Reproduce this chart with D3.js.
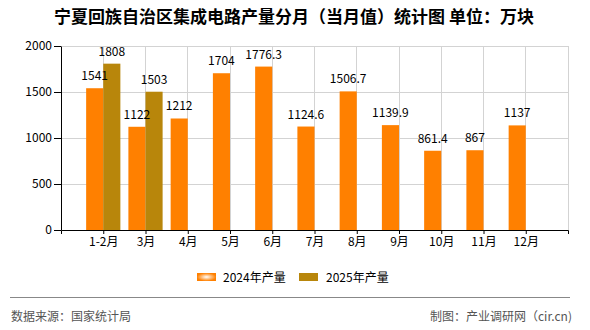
<!DOCTYPE html>
<html>
<head>
<meta charset="utf-8">
<script src="https://cdn.jsdelivr.net/npm/d3@7"></script>
<style>
  html, body { margin: 0; padding: 0; background: #fff; }
  svg { display: block; font-family: "Noto Sans CJK SC", "DejaVu Sans", sans-serif; }
</style>
</head>
<body>
<svg id="chart" width="590" height="330"></svg>
<script>
const categories = ["1-2月","3月","4月","5月","6月","7月","8月","9月","10月","11月","12月"];
const values2024 = [1541,1122,1212,1704,1776.3,1124.6,1506.7,1139.9,861.4,867,1137];
const values2025 = [1808,1503];
const labels2024 = ["1541","1122","1212","1704","1776.3","1124.6","1506.7","1139.9","861.4","867","1137"];
const labels2025 = ["1808","1503"];
const yTicks = [0,500,1000,1500,2000];
const seriesNames = ["2024年产量","2025年产量"];
const title = "宁夏回族自治区集成电路产量分月（当月值）统计图 单位：万块";
const sourceText = "数据来源：国家统计局";
const creditText = "制图：产业调研网（cir.cn)";

const svg = d3.select("#chart");
const pLeft = 61, pRight = 568, pTop = 46, pBottom = 230;
const c2024 = "#ff8000", c2025 = "#b8860b";

const x = d3.scalePoint().domain(categories).range([pLeft, pRight]).padding(1);
const y = d3.scaleLinear().domain([0, 2000]).range([pBottom, pTop]);
const bw = x.step() * 0.405;

// defs
const defs = svg.append("defs");
const rg = defs.append("radialGradient").attr("id","lg2024");
rg.append("stop").attr("offset","0%").attr("stop-color","#ffffff");
rg.append("stop").attr("offset","100%").attr("stop-color",c2024);

// title
svg.append("text").attr("x", 294).attr("y", 23).attr("text-anchor","middle")
  .attr("font-size", 17).attr("font-weight","bold").attr("fill","#000").text(title);

// grid
const grid = svg.append("g").attr("stroke","#d3d3d3").attr("stroke-width",1).attr("shape-rendering","crispEdges");
yTicks.filter(d => d > 0).forEach(t => {
  grid.append("line").attr("x1", pLeft).attr("x2", pRight).attr("y1", y(t)).attr("y2", y(t));
});
categories.forEach(c => {
  grid.append("line").attr("x1", x(c)).attr("x2", x(c)).attr("y1", pTop).attr("y2", pBottom);
});
grid.append("line").attr("x1", pRight).attr("x2", pRight).attr("y1", pTop).attr("y2", pBottom);

// bars
svg.append("g").selectAll("rect").data(values2024).join("rect")
  .attr("x", (d,i) => x(categories[i]) - bw)
  .attr("y", d => y(d))
  .attr("width", bw)
  .attr("height", d => pBottom - y(d))
  .attr("fill", c2024);
svg.append("g").selectAll("rect").data(values2025).join("rect")
  .attr("x", (d,i) => x(categories[i]))
  .attr("y", d => y(d))
  .attr("width", bw)
  .attr("height", d => pBottom - y(d))
  .attr("fill", c2025);

// value labels
svg.append("g").attr("font-size", 12).attr("text-anchor","middle").attr("fill","#000")
  .selectAll("text").data(values2024).join("text")
  .attr("x", (d,i) => x(categories[i]) - bw/2)
  .attr("y", d => y(d) - 8)
  .text((d,i) => labels2024[i]);
svg.append("g").attr("font-size", 12).attr("text-anchor","middle").attr("fill","#000")
  .selectAll("text").data(values2025).join("text")
  .attr("x", (d,i) => x(categories[i]) + bw/2)
  .attr("y", d => y(d) - 8)
  .text((d,i) => labels2025[i]);

// y axis
const yAxis = svg.append("g").attr("transform", `translate(${pLeft},0)`)
  .call(d3.axisLeft(y).tickValues(yTicks).tickFormat(d3.format("d")).tickSize(7).tickSizeOuter(0).tickPadding(2));
yAxis.select(".domain").attr("stroke","#000");
yAxis.selectAll(".tick line").attr("stroke","#000");
yAxis.selectAll("text").attr("font-size", 12).attr("fill","#000").attr("font-family","Noto Sans CJK SC, sans-serif");

// x axis
const xAxis = svg.append("g").attr("transform", `translate(0,${pBottom})`)
  .call(d3.axisBottom(x).tickSize(4).tickSizeOuter(4).tickPadding(3));
xAxis.select(".domain").attr("stroke","#000");
xAxis.selectAll(".tick line").attr("stroke","#000");
xAxis.selectAll("text").attr("font-size", 12).attr("fill","#000").attr("font-family","Noto Sans CJK SC, sans-serif");

// legend
const lg = svg.append("g").attr("font-size", 12).attr("fill","#000");
lg.append("rect").attr("x",197).attr("y",273).attr("width",19).attr("height",8).attr("fill","url(#lg2024)");
lg.append("text").attr("x",223).attr("y",281.5).text(seriesNames[0]);
lg.append("rect").attr("x",299).attr("y",273).attr("width",19).attr("height",8).attr("fill",c2025);
lg.append("text").attr("x",326).attr("y",281.5).text(seriesNames[1]);

// footer
svg.append("line").attr("x1",10).attr("x2",570).attr("y1",297.5).attr("y2",297.5)
  .attr("stroke","#888").attr("stroke-width",1);
svg.append("text").attr("x",11).attr("y",320.5).attr("font-size",12).attr("fill","#555").text(sourceText);
svg.append("text").attr("x",572).attr("y",320.5).attr("text-anchor","end").attr("font-size",12).attr("fill","#555").text(creditText);
</script>
</body>
</html>
